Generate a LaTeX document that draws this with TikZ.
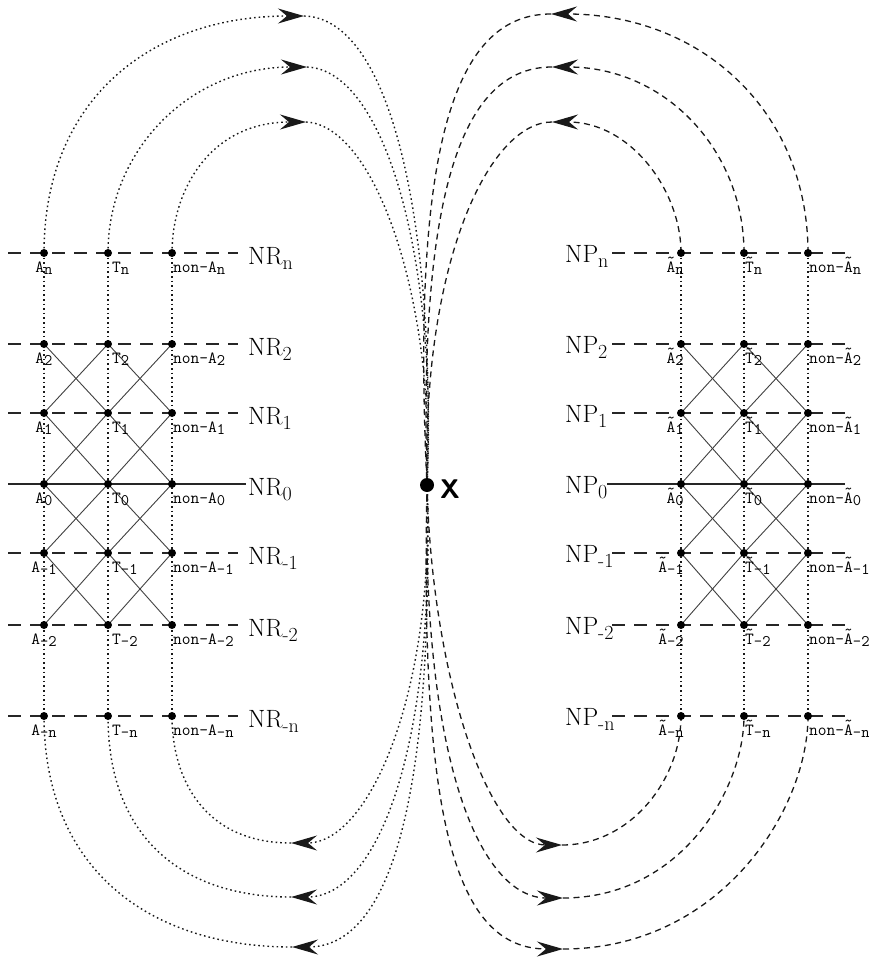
\documentclass[tikz,border=0pt]{standalone}
\usepackage{graphicx}
\usetikzlibrary{arrows.meta}
\newcommand\lsub[1]{\raisebox{-0.2em}{\scalebox{0.8}{#1}}}
\newcommand\tsub[1]{\raisebox{-0.15em}{\scalebox{0.95}{#1}}}
\newcommand\tld[1]{\ooalign{#1\cr\hidewidth\raisebox{0.25em}{\symbol{"02DC}}\hidewidth\cr}}
\begin{document}
\begin{tikzpicture}[x=1pt,y=-1pt,
  dotl/.style={line width=1.4pt, dash pattern=on 1.6pt off 3pt, black!90},
  dashl/.style={line width=1.3pt, dash pattern=on 6pt off 4.5pt, black!90},
  rowl/.style={line width=1.2pt, dash pattern=on 13pt off 9pt, black!85},
  zerol/.style={line width=1.2pt, black!85},
  diag/.style={line width=0.9pt, black!75},
  pt/.style={circle, fill=black, inner sep=0pt, minimum size=8pt},
  tip/.style={-{Stealth[length=26pt,width=15pt,inset=9pt]}},
  lab/.style={font=\fontsize{17}{17}\selectfont\ttfamily, inner sep=0pt},
  big/.style={font=\fontsize{25}{25}\selectfont, inner sep=0pt, anchor=base west},
]
\useasboundingbox (0,0) rectangle (869,958);

% grid coordinates
\foreach \r/\y in {n/253, 2/344, 1/413, 0/484, m1/553, m2/625, mn/716} {
  \coordinate (LA-\r) at (44,\y);
  \coordinate (LT-\r) at (108,\y);
  \coordinate (LN-\r) at (172,\y);
  \coordinate (RA-\r) at (681,\y);
  \coordinate (RT-\r) at (744,\y);
  \coordinate (RN-\r) at (808,\y);
  \coordinate (LS-\r) at (8,\y);
  \coordinate (RE-\r) at (845,\y);
}
\coordinate (LE-n) at (238,253);
\coordinate (LE-2) at (238,344);
\coordinate (LE-1) at (238,413);
\coordinate (LE-0) at (246,484);
\coordinate (LE-m1) at (238,553);
\coordinate (LE-m2) at (238,625);
\coordinate (LE-mn) at (238,716);
\coordinate (RS-n) at (612,253);
\coordinate (RS-2) at (612,344);
\coordinate (RS-1) at (612,413);
\coordinate (RS-0) at (607,484);
\coordinate (RS-m1) at (612,553);
\coordinate (RS-m2) at (612,625);
\coordinate (RS-mn) at (612,716);

\coordinate (X) at (427,485);
% arrow tips
\coordinate (TL1) at (304,16);
\coordinate (TL2) at (307,67);
\coordinate (TL3) at (306,122);
\coordinate (TR1) at (551,14);
\coordinate (TR2) at (552,67);
\coordinate (TR3) at (552,122);
\coordinate (BL3) at (291,843);
\coordinate (BL2) at (291,897);
\coordinate (BL1) at (292,947);
\coordinate (BR3) at (562,845);
\coordinate (BR2) at (563,898);
\coordinate (BR1) at (563,949);

% row lines
\foreach \r in {n,2,1,m1,m2,mn} {
  \draw[rowl] (LS-\r) -- (LE-\r);
  \draw[rowl] (RS-\r) -- (RE-\r);
}
\draw[zerol] (LS-0) -- (LE-0);
\draw[zerol] (RS-0) -- (RE-0);

% diagonals
\foreach \ra/\rb in {2/1,1/0,0/m1,m1/m2} {
  \foreach \ca/\cb in {LA/LT,LT/LN,RA/RT,RT/RN} {
    \draw[diag] (\ca-\ra) -- (\cb-\rb);
    \draw[diag] (\cb-\ra) -- (\ca-\rb);
  }
}

% verticals
\foreach \c in {LA,LT,LN,RA,RT,RN} \draw[dotl] (\c-n) -- (\c-mn);

% left top curves (dotted)
\draw[dotl, tip] (LA-n) .. controls (44,100) and (150,16) .. (TL1);
\draw[dotl] (TL1) .. controls (395,18) and (436,240) .. (X);
\draw[dotl, tip] (LT-n) .. controls (108,150) and (190,67) .. (TL2);
\draw[dotl] (TL2) .. controls (385,70) and (438,260) .. (X);
\draw[dotl, tip] (LN-n) .. controls (172,190) and (210,122) .. (TL3);
\draw[dotl] (TL3) .. controls (375,125) and (435,300) .. (X);

% left bottom curves (dotted)
\draw[dotl, tip] (X) .. controls (435,690) and (370,843) .. (BL3);
\draw[dotl] (BL3) .. controls (205,843) and (172,780) .. (LN-mn);
\draw[dotl, tip] (X) .. controls (436,740) and (380,897) .. (BL2);
\draw[dotl] (BL2) .. controls (185,897) and (108,840) .. (LT-mn);
\draw[dotl, tip] (X) .. controls (434,800) and (390,947) .. (BL1);
\draw[dotl] (BL1) .. controls (150,947) and (44,870) .. (LA-mn);

% right top curves (dashed)
\draw[dashl, tip] (RN-n) .. controls (808,110) and (700,14) .. (TR1);
\draw[dashl] (TR1) .. controls (460,14) and (410,130) .. (X);
\draw[dashl, tip] (RT-n) .. controls (744,150) and (665,67) .. (TR2);
\draw[dashl] (TR2) .. controls (470,67) and (418,170) .. (X);
\draw[dashl, tip] (RA-n) .. controls (681,190) and (630,122) .. (TR3);
\draw[dashl] (TR3) .. controls (490,122) and (422,260) .. (X);

% right bottom curves (dashed)
\draw[dashl, tip] (X) .. controls (432,680) and (490,845) .. (BR3);
\draw[dashl] (BR3) .. controls (630,845) and (681,780) .. (RA-mn);
\draw[dashl, tip] (X) .. controls (422,760) and (480,898) .. (BR2);
\draw[dashl] (BR2) .. controls (680,898) and (744,790) .. (RT-mn);
\draw[dashl, tip] (X) .. controls (420,820) and (455,949) .. (BR1);
\draw[dashl] (BR1) .. controls (720,949) and (808,810) .. (RN-mn);

% dots and labels
\foreach \r/\y/\s in {n/253/n, 2/344/2, 1/413/1, 0/484/0, m1/553/-1, m2/625/-2, mn/716/-n} {
  \foreach \c in {LA,LT,LN,RA,RT,RN} \node[pt] (d\c-\r) at (\c-\r) {};
  \node[lab, anchor=base] (lLA-\r) at (44,\y+19) {A\tsub{\s}};
  \node[lab, anchor=base west] (lLT-\r) at (112,\y+19) {T\tsub{\s}};
  \node[lab, anchor=base west] (lLN-\r) at (173,\y+19) {non-A\tsub{\s}};
  \node[lab, anchor=base east] (lRA-\r) at (684,\y+19) {\tld{A}\tsub{\s}};
  \node[lab, anchor=base west] (lRT-\r) at (745,\y+19) {\tld{T}\tsub{\s}};
  \node[lab, anchor=base west] (lRN-\r) at (809,\y+19) {non-\tld{A}\tsub{\s}};
  \node[big] (NR-\r) at (248,\y+11) {NR\lsub{\s}};
  \node[big] (NP-\r) at (565,\y+9) {NP\lsub{\s}};
}

\node[circle, fill=black, inner sep=0pt, minimum size=14pt] (xdot) at (X) {};
\node[font=\sffamily\bfseries\fontsize{27}{27}\selectfont, inner sep=0pt] (xlab) at (450,489) {X};
\end{tikzpicture}
\end{document}
